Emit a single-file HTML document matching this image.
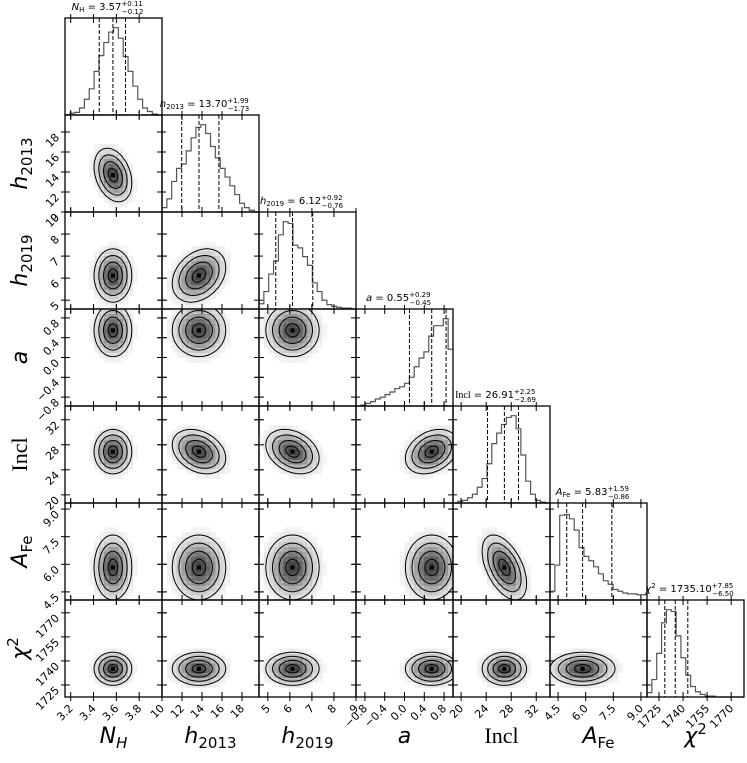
<!DOCTYPE html>
<html><head><meta charset="utf-8"><style>
html,body{margin:0;padding:0;background:#fff;}
svg{display:block;font-family:"DejaVu Sans","Liberation Sans",sans-serif;}
</style></head><body>
<svg id="chart" width="747" height="763" viewBox="0 0 747 763" xmlns="http://www.w3.org/2000/svg"></svg>
<script>
const paramNames = ["N_H","h2013","h2019","a","Incl","A_Fe","chi2"];
const medians = [3.57, 13.70, 6.12, 0.55, 26.91, 5.83, 1735.10];
const errPlus = [0.11, 1.99, 0.92, 0.29, 2.25, 1.59, 7.85];
const errMinus = [0.12, 1.73, 0.76, 0.45, 2.69, 0.86, 6.50];
const rangeLo = [3.15, 10.0, 4.6, -0.98, 18.7, 4.06, 1717.5];
const rangeHi = [4.0, 19.7, 9.0, 0.98, 34.2, 9.33, 1778];
const tickVals = [[3.2,3.4,3.6,3.8],[10,12,14,16,18],[5,6,7,8,9],[-0.8,-0.4,0.0,0.4,0.8],[20,24,28,32],[4.5,6.0,7.5,9.0],[1725,1740,1755,1770]];
const tickText = [["3.2","3.4","3.6","3.8"],["10","12","14","16","18"],["5","6","7","8","9"],["\u22120.8","\u22120.4","0.0","0.4","0.8"],["20","24","28","32"],["4.5","6.0","7.5","9.0"],["1725","1740","1755","1770"]];
const histNH = [0,0.02,0.03,0.08,0.18,0.3,0.5,0.68,0.83,0.95,1.0,0.88,0.67,0.5,0.33,0.18,0.08,0.04,0.01,0];
const histH2013 = [0.05,0.15,0.35,0.5,0.55,0.7,0.85,0.97,1.0,0.9,0.75,0.62,0.5,0.4,0.3,0.2,0.1,0.05,0.02,0];
const histH2019 = [0.06,0.2,0.4,0.55,0.85,1.0,0.98,0.73,0.7,0.6,0.5,0.3,0.2,0.1,0.05,0.03,0.02,0.01,0.01,0];
const histA = [0,0.01,0.03,0.05,0.08,0.1,0.13,0.16,0.2,0.22,0.26,0.33,0.45,0.55,0.62,0.8,0.92,0.92,1.0,0.65];
const histIncl = [0,0.02,0.03,0.06,0.1,0.18,0.28,0.45,0.68,0.8,0.9,0.98,1.0,0.85,0.55,0.25,0.1,0.03,0.01,0];
const histAFe = [0.1,0.4,0.97,0.98,0.93,0.8,0.6,0.5,0.45,0.38,0.3,0.22,0.18,0.12,0.1,0.08,0.07,0.07,0.06,0.06];
const histChi2 = [0.05,0.2,0.5,0.85,1.0,0.98,0.7,0.45,0.25,0.12,0.06,0.03,0.01,0.01,0,0,0,0,0,0];
const hists = [histNH,histH2013,histH2019,histA,histIncl,histAFe,histChi2];
const corrRows = [[],[-0.3],[0.0,0.3],[0.0,0.0,0.0],[0.0,-0.3,-0.3,0.3],[0.0,0.0,0.0,0.0,-0.5],[0,0,0,0,0,0]];

const NS="http://www.w3.org/2000/svg";
const svg=document.getElementById('chart');
const L=65,T=18,S=97,N=7,SHRINK=0.72;
function mk(tag,attrs,parent){const e=document.createElementNS(NS,tag);for(const k in attrs)e.setAttribute(k,attrs[k]);(parent||svg).appendChild(e);return e;}
function sx(p,v,x0){return x0+(v-rangeLo[p])/(rangeHi[p]-rangeLo[p])*S;}
function sy(p,v,y0){return y0+S-(v-rangeLo[p])/(rangeHi[p]-rangeLo[p])*S;}
const levels=[0.5,1.0,1.5,2.0];

for(let i=0;i<N;i++){
  for(let j=0;j<=i;j++){
    const x0=L+j*S,y0=T+i*S;
    const g=mk('g',{});
    
    
    if(i===j){
      const h=hists[i],nb=h.length;let d='';
      for(let b=0;b<nb;b++){
        const xa=sx(i,rangeLo[i]+(rangeHi[i]-rangeLo[i])*b/nb,x0),xb=sx(i,rangeLo[i]+(rangeHi[i]-rangeLo[i])*(b+1)/nb,x0);
        const yy=y0+S-h[b]*S*0.9;
        d+=(b===0?'M'+xa+','+yy:'L'+xa+','+yy)+'L'+xb+','+yy;
      }
      const hp=mk('path',{d:d,fill:'none',stroke:'#555','stroke-width':1.2},g);
      
      
      [medians[i]-errMinus[i],medians[i],medians[i]+errPlus[i]].forEach(q=>{
        const X=sx(i,q,x0);
        const ql=mk('line',{x1:X,x2:X,y1:y0,y2:y0+S,stroke:'#000','stroke-width':1,'stroke-dasharray':'4,2'},g);
        
        
      });
      const cx=x0+S/2;
      const lab={N_H:['N','H',true],h2013:['h','2013',true],h2019:['h','2019',true],a:['a','',true],Incl:['Incl','',false],A_Fe:['A','Fe',true],chi2:['\u03c7','',true]}[paramNames[i]];
      const t=mk('text',{x:cx-6,y:y0-8,'font-size':10,'text-anchor':'middle'},g);
      
      
      const s1=mk('tspan',{'font-style':lab[2]?'italic':'normal'},t);s1.textContent=lab[0];
      if(!lab[2])s1.setAttribute('font-family','"Liberation Serif",serif');
      if(lab[1]){const s2=mk('tspan',{'font-size':7,dy:2},t);s2.textContent=lab[1];}
      if(paramNames[i]==='chi2'){const s2=mk('tspan',{'font-size':7,dy:-4},t);s2.textContent='2';}
      const s3=mk('tspan',{dy:(lab[1]?-2:(paramNames[i]==='chi2'?4:0))},t);s3.textContent=' = '+medians[i].toFixed(2);
      const s4=mk('tspan',{'font-size':7,dy:-4},t);s4.textContent='+'+errPlus[i].toFixed(2);
      const s5=mk('tspan',{'font-size':7,dy:8,dx:-21},t);s5.textContent='\u2212'+errMinus[i].toFixed(2);
    } else {
      const px=j,py=i,rho=corrRows[i][j];
      const mx=medians[px],my=medians[py];
      const sgx=SHRINK*(errPlus[px]+errMinus[px])/2,sgy=SHRINK*(errPlus[py]+errMinus[py])/2;
      const nb=20;
      const cw=S/nb;
      for(let a=0;a<nb;a++)for(let b=0;b<nb;b++){
        const vx=rangeLo[px]+(rangeHi[px]-rangeLo[px])*(a+0.5)/nb;
        const vy=rangeLo[py]+(rangeHi[py]-rangeLo[py])*(b+0.5)/nb;
        const zx=(vx-mx)/sgx,zy=(vy-my)/sgy;
        const Q=(zx*zx-2*rho*zx*zy+zy*zy)/(1-rho*rho);
        const dd=Math.exp(-0.5*Q);
        if(dd<0.05)continue;
        const gv=Math.round(255*(1-0.75*dd));
        const r=mk('rect',{x:x0+a*cw,y:y0+S-(b+1)*cw,width:cw+0.3,height:cw+0.3,fill:'rgb('+gv+','+gv+','+gv+')'},g);
        
        
      }
      const clip=mk('clipPath',{id:'c'+i+'_'+j},g);
      mk('rect',{x:x0,y:y0,width:S,height:S},clip);
      levels.forEach(k=>{
        let d='';
        for(let s=0;s<=60;s++){
          const th=s/60*2*Math.PI;
          const vx=mx+k*sgx*Math.cos(th);
          const vy=my+k*sgy*(rho*Math.cos(th)+Math.sqrt(1-rho*rho)*Math.sin(th));
          d+=(s?'L':'M')+sx(px,vx,x0).toFixed(1)+','+sy(py,vy,y0).toFixed(1);
        }
        const c=mk('path',{d:d+'Z',fill:'none',stroke:'#000','stroke-width':1,'clip-path':'url(#c'+i+'_'+j+')'},g);
        
        
      });
      const dot=mk('rect',{x:sx(px,mx,x0)-2,y:sy(py,my,y0)-2,width:4,height:4,fill:'#000'},g);
      
      
    }
    const fr=mk('rect',{x:x0,y:y0,width:S,height:S,fill:'none',stroke:'#000','stroke-width':1.3},g);
    
    
    tickVals[j].forEach((v,k)=>{
      const X=sx(j,v,x0);
      mk('line',{x1:X,x2:X,y1:y0+S-5,y2:y0+S+4,stroke:'#000','stroke-width':1},g);
      mk('line',{x1:X,x2:X,y1:y0-4,y2:y0+5,stroke:'#000','stroke-width':1},g);
      if(i===N-1){
        const tl=mk('text',{x:X+3,y:y0+S+12,'font-size':11,'text-anchor':'end',transform:'rotate(-45 '+(X+3)+' '+(y0+S+12)+')'},g);
        
        
        tl.textContent=tickText[j][k];
      }
    });
    if(i!==j){
      tickVals[i].forEach((v,k)=>{
        const Y=sy(i,v,y0);
        mk('line',{x1:x0-4,x2:x0+5,y1:Y,y2:Y,stroke:'#000','stroke-width':1},g);
        mk('line',{x1:x0+S-5,x2:x0+S+4,y1:Y,y2:Y,stroke:'#000','stroke-width':1},g);
        if(j===0){
          const tl=mk('text',{x:x0-5,y:Y+6,'font-size':11,'text-anchor':'end',transform:'rotate(-45 '+(x0-5)+' '+(Y+6)+')'},g);
          
          
          tl.textContent=tickText[i][k];
        }
      });
    }
  }
}
const axisLab=[['N','H',true],['h','2013',true],['h','2019',true],['a','',true],['Incl','',false],['A','Fe',true],['\u03c7','2',true]];
axisLab.forEach((lab,p)=>{
  const cx=L+p*S+S/2;
  const t=mk('text',{x:cx,y:743,'font-size':22,'text-anchor':'middle'});
  
  
  const a=mk('tspan',{'font-style':lab[2]?'italic':'normal'},t);a.textContent=lab[0];
  if(!lab[2])t.setAttribute('font-family','"Liberation Serif",serif');
  if(lab[1]){const b=mk('tspan',{'font-size':15,dy:(p===6?-9:5),'font-style':p===0?'italic':'normal'},t);b.textContent=lab[1];}
  if(p>0){
    const cy=T+p*S+S/2;
    const ty=mk('text',{x:27,y:cy,'font-size':22,'text-anchor':'middle',transform:'rotate(-90 27 '+cy+')'});
    
    
    const a2=mk('tspan',{'font-style':lab[2]?'italic':'normal'},ty);a2.textContent=lab[0];
    if(!lab[2])ty.setAttribute('font-family','"Liberation Serif",serif');
    if(lab[1]){const b=mk('tspan',{'font-size':15,dy:(p===6?-9:5)},ty);b.textContent=lab[1];}
  }
});
</script>
</body></html>
